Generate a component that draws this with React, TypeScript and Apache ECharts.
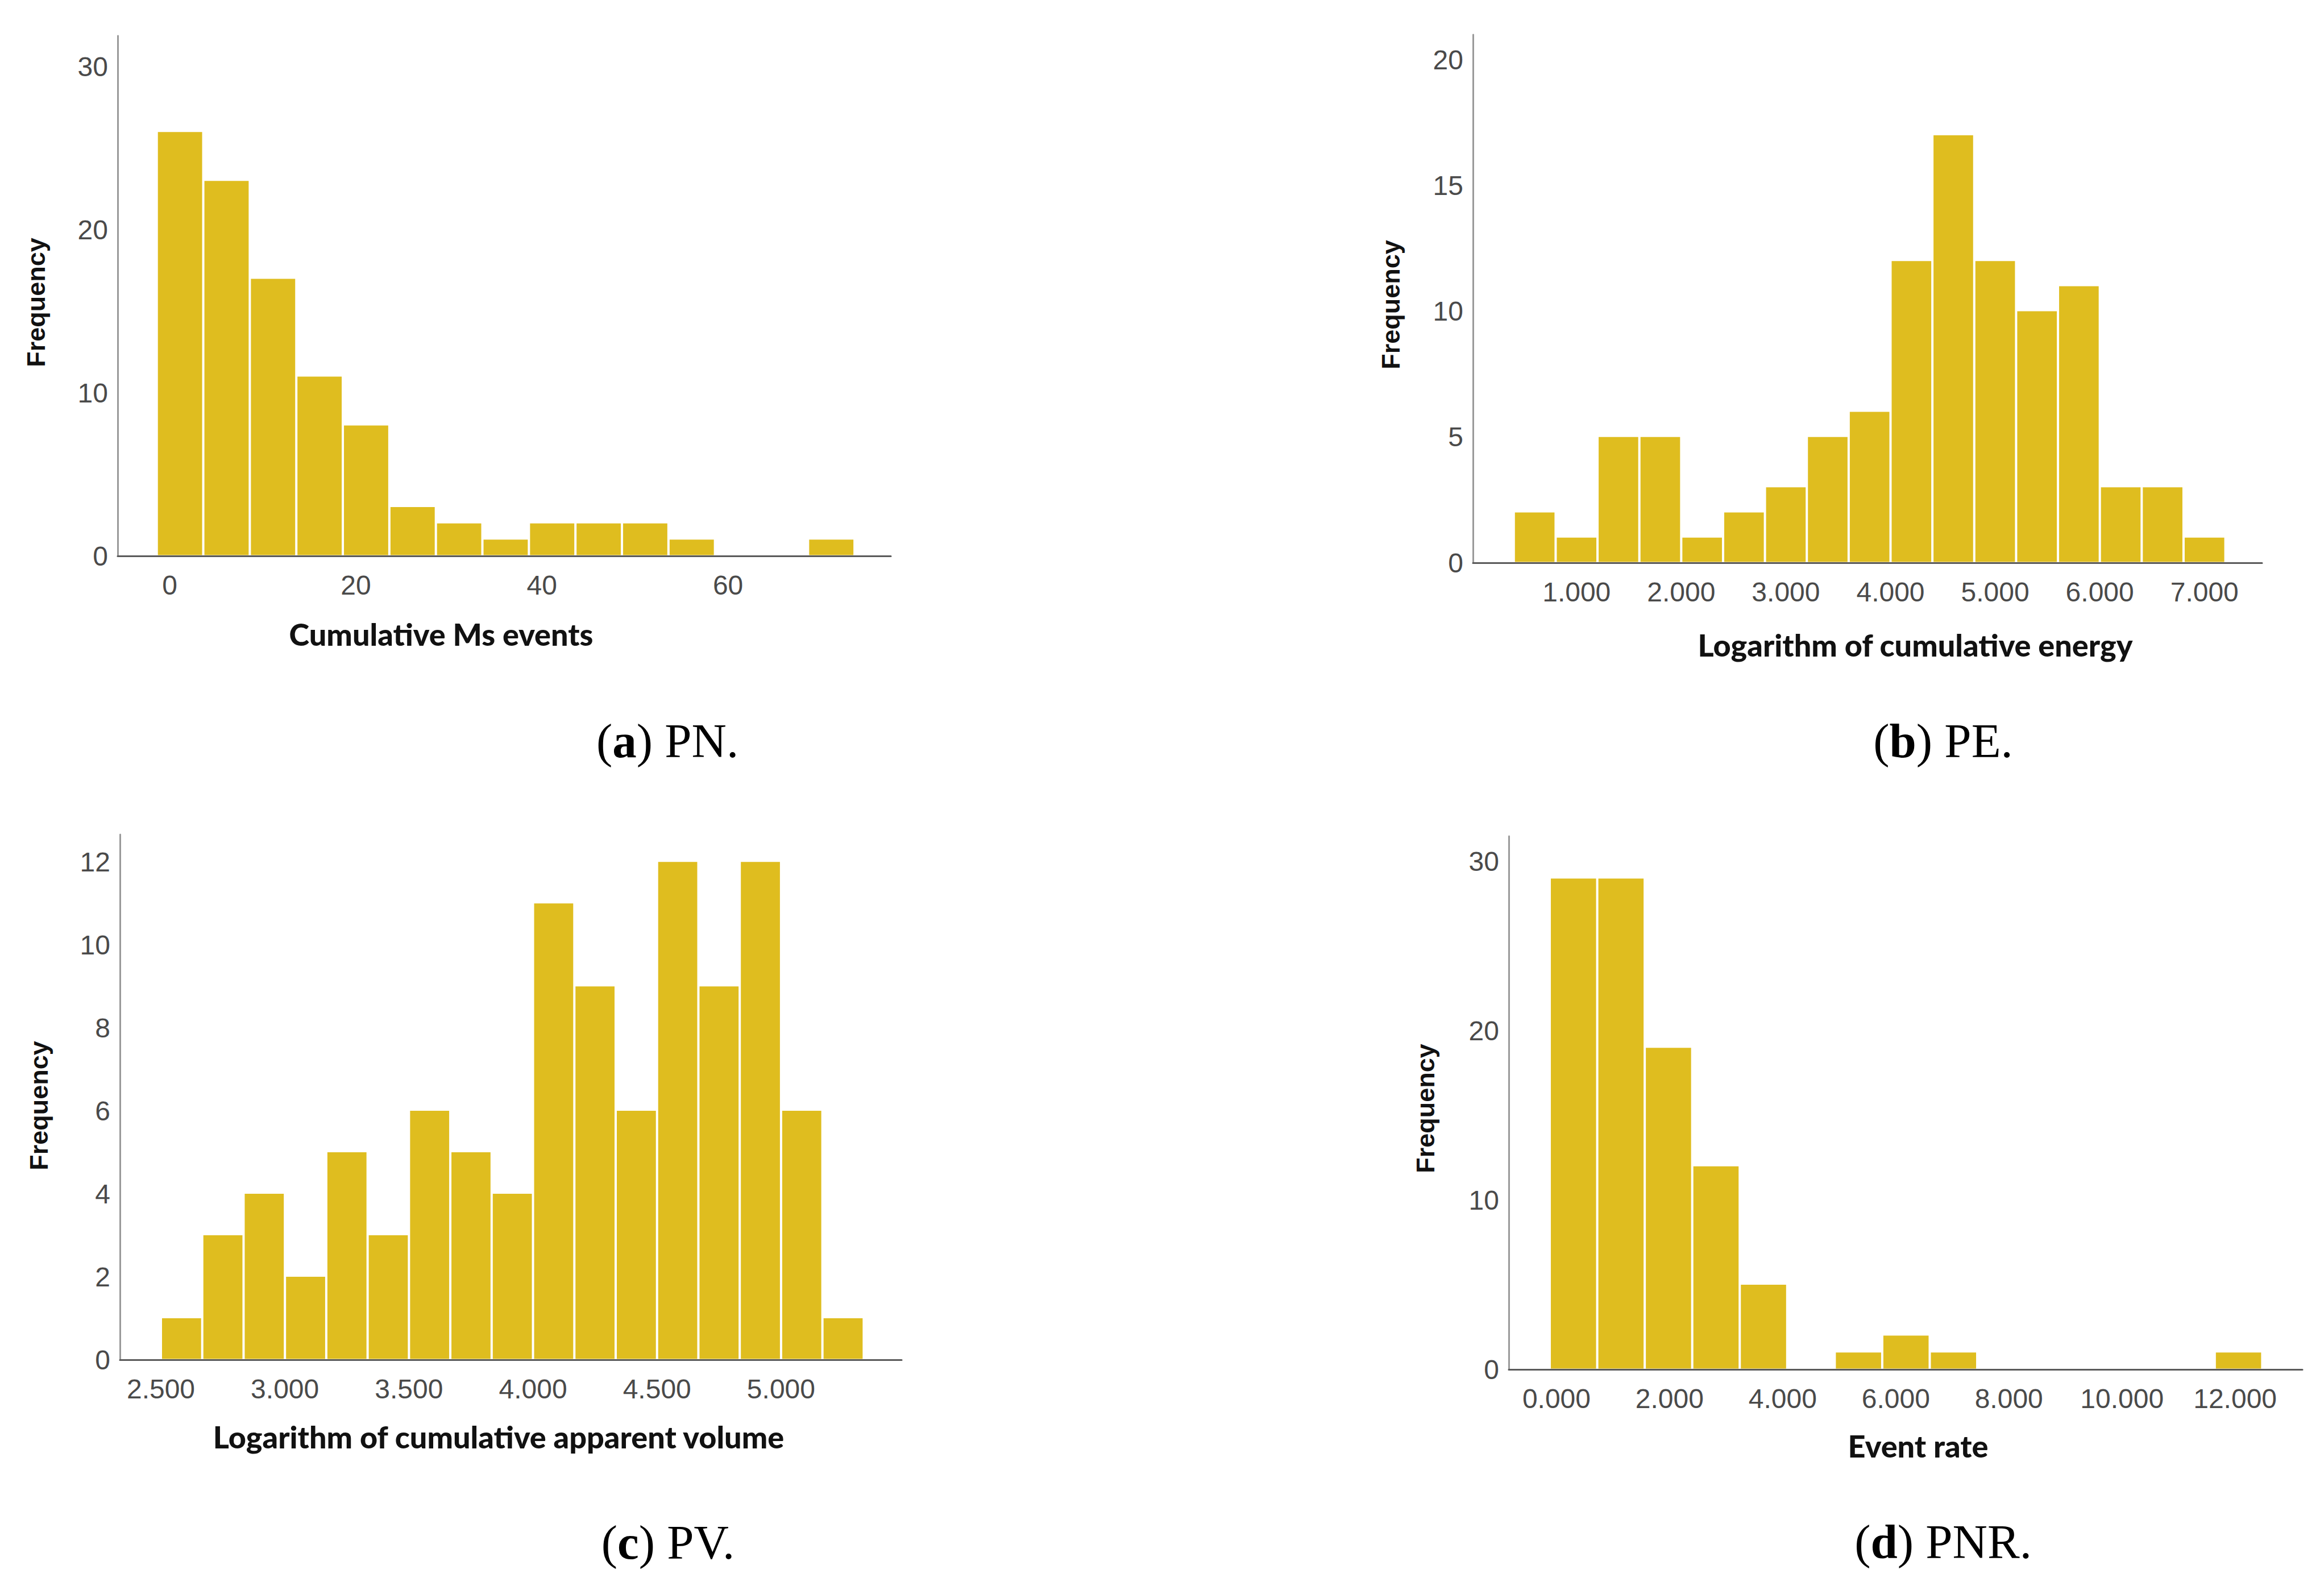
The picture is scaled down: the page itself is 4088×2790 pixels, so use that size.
import React, { useEffect, useRef } from "react";
import * as echarts from "echarts";

// ---------- data ----------
// (a) PN: Cumulative Ms events
const PN_BIN_START = -1.4;
const PN_BIN_WIDTH = 5;
const PN_COUNTS = [26, 23, 17, 11, 8, 3, 2, 1, 2, 2, 2, 1, 0, 0, 1];
const PN_X_TICKS = [0, 20, 40, 60];
const PN_Y_TICKS = [0, 10, 20, 30];

// (b) PE: Logarithm of cumulative energy
const PE_BIN_START = 0.4;
const PE_BIN_WIDTH = 0.4;
const PE_COUNTS = [2, 1, 5, 5, 1, 2, 3, 5, 6, 12, 17, 12, 10, 11, 3, 3, 1];
const PE_X_TICKS = [1, 2, 3, 4, 5, 6, 7];
const PE_Y_TICKS = [0, 5, 10, 15, 20];

// (c) PV: Logarithm of cumulative apparent volume
const PV_BIN_START = 2.5;
const PV_BIN_WIDTH = 1 / 6;
const PV_COUNTS = [1, 3, 4, 2, 5, 3, 6, 5, 4, 11, 9, 6, 12, 9, 12, 6, 1];
const PV_X_TICKS = [2.5, 3, 3.5, 4, 4.5, 5];
const PV_Y_TICKS = [0, 2, 4, 6, 8, 10, 12];

// (d) PNR: Event rate
const PNR_BIN_START = -0.12;
const PNR_BIN_WIDTH = 0.84;
const PNR_COUNTS = [29, 29, 19, 12, 5, 0, 1, 2, 1, 0, 0, 0, 0, 0, 1];
const PNR_X_TICKS = [0, 2, 4, 6, 8, 10, 12];
const PNR_Y_TICKS = [0, 10, 20, 30];

const X_TITLES = [
  "Cumulative Ms events",
  "Logarithm of cumulative energy",
  "Logarithm of cumulative apparent volume",
  "Event rate",
];
const CAPTION_LETTERS = ["a", "b", "c", "d"];
const CAPTION_NAMES = ["PN.", "PE.", "PV.", "PNR."];

// ---------- layout / style ----------
const BAR_COLOR = "#dfbd1f";
const TICK_FONT = "Liberation Sans, Arial, sans-serif";
const TITLE_FONT = "Lato, 'Open Sans', sans-serif";

const PANELS = [
  {
    start: PN_BIN_START, width: PN_BIN_WIDTH, counts: PN_COUNTS,
    xTicks: PN_X_TICKS, yTicks: PN_Y_TICKS, decimals: 0,
    grid: { left: 207, top: 63, width: 1360, height: 915 },
    xMin: -5.6, xMax: 77.5, yMax: 31.9,
    freq: [63, 532], xTitle: [776, 1115], caption: [1174, 1303],
  },
  {
    start: PE_BIN_START, width: PE_BIN_WIDTH, counts: PE_COUNTS,
    xTicks: PE_X_TICKS, yTicks: PE_Y_TICKS, decimals: 3,
    grid: { left: 2591, top: 61, width: 1388, height: 929 },
    xMin: 0.01, xMax: 7.55, yMax: 21.0,
    freq: [2446, 536], xTitle: [3369, 1134], caption: [3418, 1303],
  },
  {
    start: PV_BIN_START, width: PV_BIN_WIDTH, counts: PV_COUNTS,
    xTicks: PV_X_TICKS, yTicks: PV_Y_TICKS, decimals: 3,
    grid: { left: 211, top: 1468, width: 1375, height: 924 },
    xMin: 2.335, xMax: 5.486, yMax: 12.66,
    freq: [68, 1945], xTitle: [877, 2527], caption: [1175, 2713],
  },
  {
    start: PNR_BIN_START, width: PNR_BIN_WIDTH, counts: PNR_COUNTS,
    xTicks: PNR_X_TICKS, yTicks: PNR_Y_TICKS, decimals: 3,
    grid: { left: 2654, top: 1471, width: 1396, height: 938 },
    xMin: -0.844, xMax: 13.19, yMax: 31.5,
    freq: [2507, 1950], xTitle: [3374, 2543], caption: [3418, 2712],
  },
];

function buildOption() {
  const grids: any[] = [];
  const xAxes: any[] = [];
  const yAxes: any[] = [];
  const series: any[] = [];
  const graphics: any[] = [];

  PANELS.forEach((p, i) => {
    grids.push({ ...p.grid, containLabel: false });
    xAxes.push({
      type: "value",
      gridIndex: i,
      min: p.xMin,
      max: p.xMax,
      axisLine: { show: true, onZero: false, lineStyle: { color: "#5a5a5a", width: 3 } },
      axisTick: { show: false },
      splitLine: { show: false },
      axisLabel: {
        customValues: p.xTicks,
        margin: 27,
        fontSize: 48,
        fontFamily: TICK_FONT,
        color: "#4a4a4a",
        formatter: (v: number) => v.toFixed(p.decimals),
      },
    });
    yAxes.push({
      type: "value",
      gridIndex: i,
      min: 0,
      max: p.yMax,
      axisLine: { show: true, onZero: false, lineStyle: { color: "#9a9a9a", width: 3 } },
      axisTick: { show: false },
      splitLine: { show: false },
      axisLabel: {
        customValues: p.yTicks,
        margin: 17,
        fontSize: 48,
        fontFamily: TICK_FONT,
        color: "#4a4a4a",
        padding: [20, 0, 0, 0],
      },
    });
    const data = p.counts.map((c, k) => [p.start + k * p.width, p.start + (k + 1) * p.width, c]);
    series.push({
      type: "custom",
      xAxisIndex: i,
      yAxisIndex: i,
      data,
      encode: { x: [0, 1], y: 2 },
      clip: false,
      renderItem: (params: any, api: any) => {
        const x0 = api.value(0);
        const x1 = api.value(1);
        const y = api.value(2);
        if (!y) return null;
        const pTop = api.coord([x0, y]);
        const pBot = api.coord([x1, 0]);
        return {
          type: "rect",
          shape: {
            x: pTop[0] + 2,
            y: pTop[1],
            width: pBot[0] - pTop[0] - 4,
            height: pBot[1] - pTop[1] - 1.5,
          },
          style: { fill: BAR_COLOR },
        };
      },
    });

    graphics.push({
      type: "text",
      x: p.freq[0],
      y: p.freq[1],
      rotation: Math.PI / 2,
      style: {
        text: "Frequency",
        fontFamily: TICK_FONT,
        fontWeight: "bold",
        fontSize: 45,
        fill: "#111",
        textAlign: "center",
        textVerticalAlign: "middle",
      },
    });
    graphics.push({
      type: "text",
      x: p.xTitle[0],
      y: p.xTitle[1],
      style: {
        text: X_TITLES[i],
        fontFamily: TITLE_FONT,
        fontWeight: 900,
        fontSize: 54,
        fill: "#111",
        textAlign: "center",
        textVerticalAlign: "middle",
      },
    });
    graphics.push({
      type: "text",
      x: p.caption[0],
      y: p.caption[1],
      style: {
        text: "{n|(}{b|" + CAPTION_LETTERS[i] + "}{n|) " + CAPTION_NAMES[i] + "}",
        textAlign: "center",
        textVerticalAlign: "middle",
        rich: {
          n: { fontFamily: "Liberation Serif, Times New Roman, serif", fontSize: 85, fill: "#000" },
          b: { fontFamily: "Liberation Serif, Times New Roman, serif", fontSize: 85, fontWeight: "bold", fill: "#000" },
        },
      },
    });
  });

  return {
    animation: false,
    backgroundColor: "#ffffff",
    grid: grids,
    xAxis: xAxes,
    yAxis: yAxes,
    series,
    graphic: graphics,
  };
}

export default function App() {
  const ref = useRef<HTMLDivElement>(null);
  useEffect(() => {
    if (!ref.current) return;
    const chart = echarts.init(ref.current, null, { renderer: "svg" });
    chart.setOption(buildOption() as any);
    return () => chart.dispose();
  }, []);
  return (
    <div
      ref={ref}
      style={{ position: "fixed", left: 0, top: 0, width: 4088, height: 2790, background: "#fff" }}
    />
  );
}
